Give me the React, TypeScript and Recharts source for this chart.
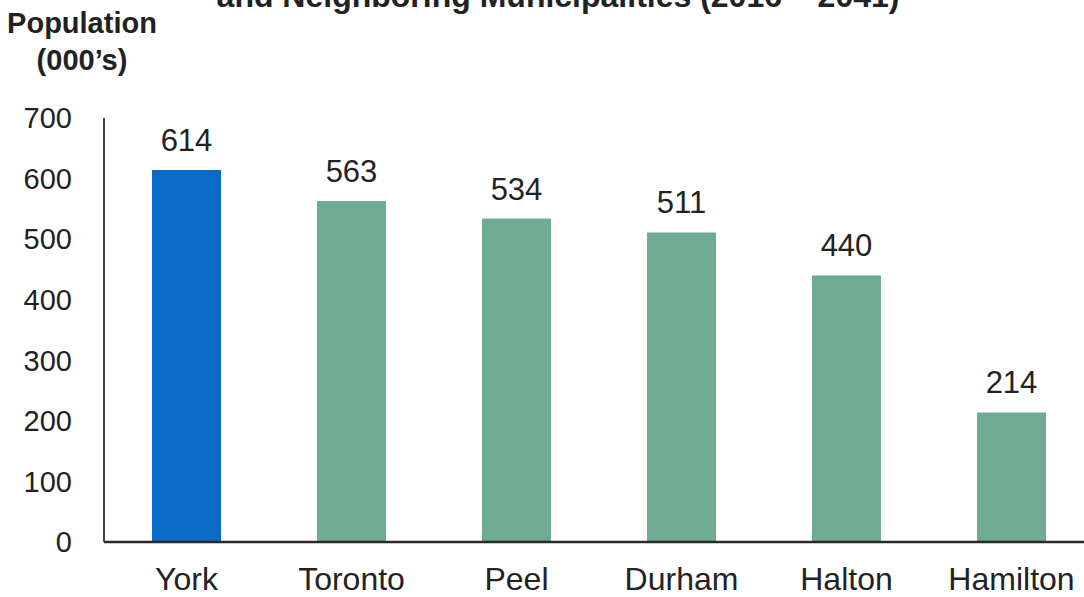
import { BarChart, Bar, XAxis, YAxis, Cell, LabelList } from 'recharts'

const categories = ['York', 'Toronto', 'Peel', 'Durham', 'Halton', 'Hamilton']
const growth = [614, 563, 534, 511, 440, 214]
const yTicks = [0, 100, 200, 300, 400, 500, 600, 700]

const BLUE = '#0b6cc8'
const GREEN = '#6eab92'
const FONT = '"Liberation Sans", Arial, sans-serif'

const data = categories.map((name, i) => ({ name, value: growth[i] }))

export default function App() {
  return (
    <div
      style={{
        position: 'absolute', left: 0, top: 0, width: 1084, height: 597,
        overflow: 'hidden', background: '#fff', fontFamily: FONT,
      }}
    >
      {/* title is cut off by the top edge in the source */}
      <div
        style={{
          position: 'absolute', top: -22, left: 200, width: 716, textAlign: 'center',
          fontSize: 32, fontWeight: 'bold', color: '#222', whiteSpace: 'nowrap',
          lineHeight: '36px',
        }}
      >
        and Neighboring Municipalities (2016 – 2041)
      </div>
      <div
        style={{
          position: 'absolute', top: 5, left: 2, width: 160, textAlign: 'center',
          fontSize: 29, fontWeight: 'bold', color: '#222', lineHeight: '37px',
        }}
      >
        Population
        <br />
        (000’s)
      </div>
      <BarChart
        width={1100}
        height={597}
        data={data}
        margin={{ top: 118, right: 6, left: 0, bottom: 0 }}
        barCategoryGap={48}
      >
        <XAxis
          dataKey="name"
          height={55}
          axisLine={{ stroke: '#2a2a2a', strokeWidth: 2.5 }}
          tickLine={false}
          tickSize={0}
          tickMargin={25}
          tick={{ fill: '#222', fontSize: 32, fontFamily: FONT }}
        />
        <YAxis
          width={104}
          domain={[0, 700]}
          ticks={yTicks}
          interval={0}
          axisLine={{ stroke: '#444', strokeWidth: 2 }}
          tickLine={false}
          tickSize={0}
          tickMargin={32}
          tick={{ fill: '#222', fontSize: 29, fontFamily: FONT }}
        />
        <Bar dataKey="value" isAnimationActive={false}>
          {data.map((d, i) => (
            <Cell key={d.name} fill={i === 0 ? BLUE : GREEN} />
          ))}
          <LabelList
            dataKey="value"
            position="top"
            offset={19}
            fill="#222"
            fontSize={31}
            fontFamily={FONT}
          />
        </Bar>
      </BarChart>
    </div>
  )
}
